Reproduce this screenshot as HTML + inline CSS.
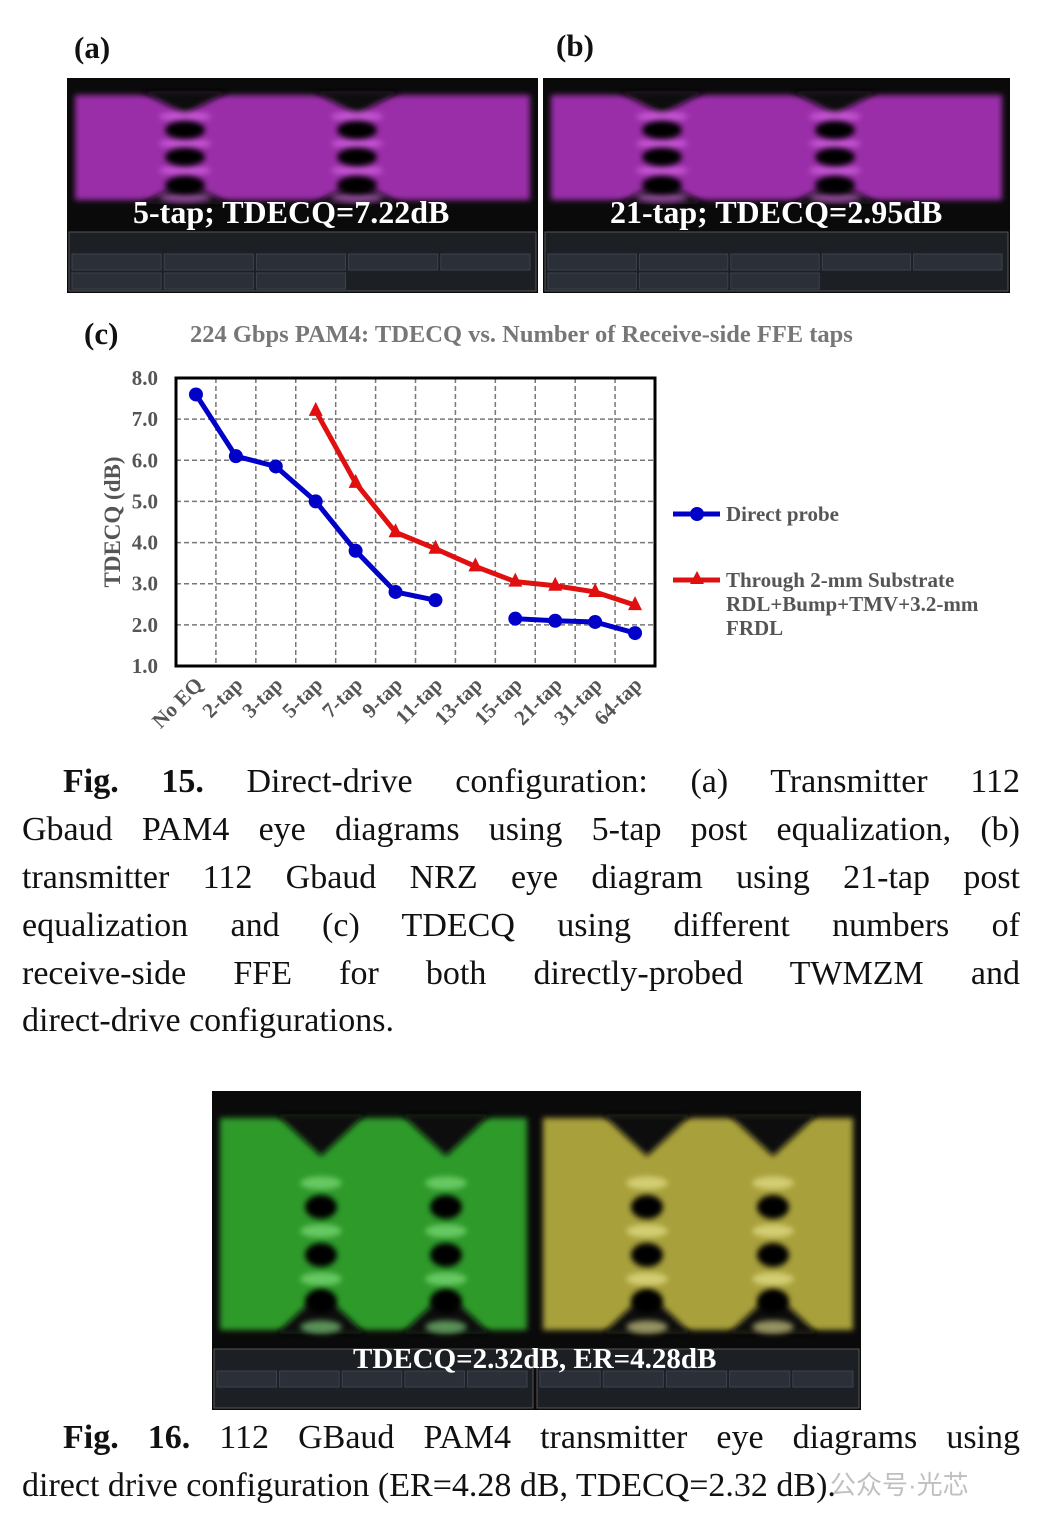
<!DOCTYPE html>
<html><head><meta charset="utf-8">
<style>
body{margin:0;background:#fff;width:1042px;height:1526px;position:relative;overflow:hidden;font-family:"Liberation Serif",serif;}
.abs{position:absolute;}
.lbl{font-weight:bold;font-size:31px;color:#111;}
.cap{position:absolute;left:22px;width:998px;font-size:34px;line-height:48px;color:#111;text-align:justify;text-align-last:justify;white-space:nowrap;}
.cap.ind{left:63px;width:957px;}
.cap.last{text-align-last:left;}
</style></head><body>
<div class="abs lbl" style="left:74px;top:30px">(a)</div>
<div class="abs lbl" style="left:556px;top:28px">(b)</div>
<svg class="abs" style="left:0;top:0" width="1042" height="1526" id="eyes">
<defs>
<filter id="bl2" x="-50%" y="-50%" width="200%" height="200%"><feGaussianBlur stdDeviation="3"/></filter>
</defs>
</svg>
<div class="abs" style="left:133px;top:194px;font:bold 32px 'Liberation Serif',serif;color:#fff">5-tap; TDECQ=7.22dB</div>
<div class="abs" style="left:610px;top:194px;font:bold 32px 'Liberation Serif',serif;color:#fff">21-tap; TDECQ=2.95dB</div>
<div class="abs" style="left:353px;top:1343px;font:bold 29px 'Liberation Serif',serif;color:#fff">TDECQ=2.32dB, ER=4.28dB</div>

<div class="abs lbl" style="left:84px;top:316px">(c)</div>
<div class="abs" style="left:190px;top:321px;font:bold 24.5px 'Liberation Serif',serif;color:#777;white-space:nowrap">224 Gbps PAM4: TDECQ vs. Number of Receive-side FFE taps</div>
<svg class="abs" style="left:0;top:360px" width="1042" height="390" id="chart"></svg>

<div class="cap ind" style="top:758px"><b>Fig. 15.</b> Direct-drive configuration: (a) Transmitter 112</div>
<div class="cap" style="top:806px">Gbaud PAM4 eye diagrams using 5-tap post equalization, (b)</div>
<div class="cap" style="top:854px">transmitter 112 Gbaud NRZ eye diagram using 21-tap post</div>
<div class="cap" style="top:902px">equalization and (c) TDECQ using different numbers of</div>
<div class="cap" style="top:950px">receive-side FFE for both directly-probed TWMZM and</div>
<div class="cap last" style="top:997px">direct-drive configurations.</div>
<div class="cap ind" style="top:1414px"><b>Fig. 16.</b> 112 GBaud PAM4 transmitter eye diagrams using</div>
<div class="cap last" style="top:1462px">direct drive configuration (ER=4.28 dB, TDECQ=2.32 dB).</div>
<div class="abs" style="left:830px;top:1465px;font:26px 'Liberation Sans','Noto Sans CJK SC',sans-serif;color:rgba(150,150,150,0.6)">公众号·光芯</div>

<script>
var NS='http://www.w3.org/2000/svg';
function mk(p,t,a){var e=document.createElementNS(NS,t);for(var k in a)e.setAttribute(k,a[k]);p.appendChild(e);return e;}
var eyes=document.getElementById('eyes');
var panels=[
 {n:'panel-a',x:67,y:78,w:471,h:152,rh:63,c:'#9a2fa8',b:'#e070ee',cols:[185,357],rows:[130,157,185],rx:20,ry:9,top:95,bot:200},
 {n:'panel-b',x:543,y:78,w:467,h:152,rh:63,c:'#9a2fa8',b:'#e070ee',cols:[662,835],rows:[130,157,185],rx:20,ry:9,top:95,bot:200},
 {n:'fig16-left',x:212,y:1091,w:323,h:256,rh:63,c:'#2f9a2a',b:'#8fe88a',cols:[321,446],rows:[1207,1255,1301],rx:16,ry:12,top:1118,bot:1330},
 {n:'fig16-right',x:535,y:1091,w:326,h:256,rh:63,c:'#a8a03a',b:'#f0ec9a',cols:[647,773],rows:[1207,1255,1301],rx:16,ry:12,top:1118,bot:1330}
];
panels.forEach(function(p){
 var g=mk(eyes,'g',{});
 
 
 mk(g,'rect',{x:p.x,y:p.y,width:p.w,height:p.h+p.rh,fill:'#0a0a0a'});
 mk(g,'rect',{x:p.x+8,y:p.top,width:p.w-16,height:p.bot-p.top,fill:p.c,filter:'url(#bl2)'});
 p.cols.forEach(function(cx){
  var d=(p.bot-p.top)*0.18;
  mk(g,'polygon',{points:(cx-45)+','+(p.top-4)+' '+(cx+45)+','+(p.top-4)+' '+cx+','+(p.top+d),fill:'#0a0a0a',filter:'url(#bl2)'});
  mk(g,'polygon',{points:(cx-45)+','+(p.bot+4)+' '+(cx+45)+','+(p.bot+4)+' '+cx+','+(p.bot-d),fill:'#0a0a0a',filter:'url(#bl2)'});
  var sp=p.rows[1]-p.rows[0];
  for(var i=0;i<4;i++){mk(g,'ellipse',{cx:cx,cy:p.rows[0]-sp/2+i*sp,rx:p.rx*1.3,ry:p.ry*0.55,fill:p.b,opacity:0.6,filter:'url(#bl2)'});}
  p.rows.forEach(function(cy){mk(g,'ellipse',{cx:cx,cy:cy,rx:p.rx,ry:p.ry,fill:'#000',filter:'url(#bl2)'});});
 });
 mk(g,'rect',{x:p.x+2,y:p.y+p.h+2,width:p.w-4,height:p.rh-4,fill:'#1c1f24',stroke:'#555','stroke-width':1});
 for(var j=0;j<5;j++){mk(g,'rect',{x:p.x+5+j*(p.w-10)/5,y:p.y+p.h+24,width:(p.w-10)/5-3,height:16,fill:'#2a2f38',stroke:'#3b4350'});}
 if(p.n.indexOf('panel')==0){for(var j=0;j<3;j++){mk(g,'rect',{x:p.x+5+j*(p.w-10)/5,y:p.y+p.h+43,width:(p.w-10)/5-3,height:16,fill:'#2a2f38',stroke:'#3b4350'});}}
});

// ---------- Chart ----------
var categories=['No EQ','2-tap','3-tap','5-tap','7-tap','9-tap','11-tap','13-tap','15-tap','21-tap','31-tap','64-tap'];
var directProbe=[7.6,6.1,5.85,5.0,3.8,2.8,2.6,null,2.15,2.1,2.07,1.8];
var throughSubstrate=[null,null,null,7.2,5.45,4.25,3.85,3.42,3.05,2.95,2.8,2.48];
var yTicks=[1.0,2.0,3.0,4.0,5.0,6.0,7.0,8.0];
var chart=document.getElementById('chart');
var L=176,R=655,T=18,B=306,yMin=1,yMax=8;
function xs(i){return L+(R-L)/categories.length*(i+0.5);}
function ys(v){return B-(v-yMin)/(yMax-yMin)*(B-T);}
yTicks.forEach(function(t){
 if(t>yMin&&t<yMax){var gl=mk(chart,'line',{x1:L,x2:R,y1:ys(t),y2:ys(t),stroke:'#777','stroke-width':1.5,'stroke-dasharray':'5,3'});
 
 }
 var tl=mk(chart,'text',{x:158,y:ys(t)+7,'text-anchor':'end','font-family':'Liberation Serif','font-weight':'bold','font-size':21,fill:'#555'});
 tl.textContent=t.toFixed(1);
 
 
});
categories.forEach(function(c,i){
 if(i>0){var gx=L+(R-L)/categories.length*i;var gl=mk(chart,'line',{x1:gx,x2:gx,y1:T,y2:B,stroke:'#777','stroke-width':1.5,'stroke-dasharray':'5,3'});
 
 }
 var tx=xs(i)+8,ty=B+20;
 var tl=mk(chart,'text',{x:tx,y:ty,'text-anchor':'end','font-family':'Liberation Serif','font-weight':'bold','font-size':21,fill:'#555',transform:'rotate(-45 '+tx+' '+ty+')'});
 tl.textContent=c;
 
 
});
var frame=mk(chart,'rect',{x:L,y:T,width:R-L,height:B-T,fill:'none',stroke:'#000','stroke-width':3});


var yt=mk(chart,'text',{x:0,y:0,transform:'translate(120 162) rotate(-90)','text-anchor':'middle','font-family':'Liberation Serif','font-weight':'bold','font-size':23,fill:'#555'});
yt.textContent='TDECQ (dB)';


function series(vals,color,name,tri){
 var segs=[],cur=[];
 vals.forEach(function(v,i){if(v==null){if(cur.length)segs.push(cur);cur=[];}else cur.push([xs(i),ys(v)]);});
 if(cur.length)segs.push(cur);
 segs.forEach(function(s){
  var pl=mk(chart,'polyline',{points:s.map(function(p){return p.join(',');}).join(' '),fill:'none',stroke:color,'stroke-width':5,'stroke-linejoin':'round'});
  
  
 });
 vals.forEach(function(v,i){if(v==null)return;var x=xs(i),y=ys(v),m;
  if(tri)m=mk(chart,'polygon',{points:x+','+(y-9)+' '+(x-7)+','+(y+5)+' '+(x+7)+','+(y+5),fill:color});
  else m=mk(chart,'circle',{cx:x,cy:y,r:7,fill:color});
  
  
 });
}
series(directProbe,'#0000c8','direct-probe',false);
series(throughSubstrate,'#e01010','through-substrate',true);
var lg=mk(chart,'g',{});


mk(lg,'line',{x1:673,x2:720,y1:154,y2:154,stroke:'#0000c8','stroke-width':5});
mk(lg,'circle',{cx:697,cy:154,r:7,fill:'#0000c8'});
mk(lg,'line',{x1:673,x2:720,y1:220,y2:220,stroke:'#e01010','stroke-width':5});
mk(lg,'polygon',{points:'697,211 690,224 704,224',fill:'#e01010'});
[['Direct probe',161],['Through 2-mm Substrate',227],['RDL+Bump+TMV+3.2-mm',251],['FRDL',275]].forEach(function(a){
 var t=mk(lg,'text',{x:726,y:a[1],'font-family':'Liberation Serif','font-weight':'bold','font-size':21,fill:'#555'});
 t.textContent=a[0];
 
 
});
</script>
</body></html>
